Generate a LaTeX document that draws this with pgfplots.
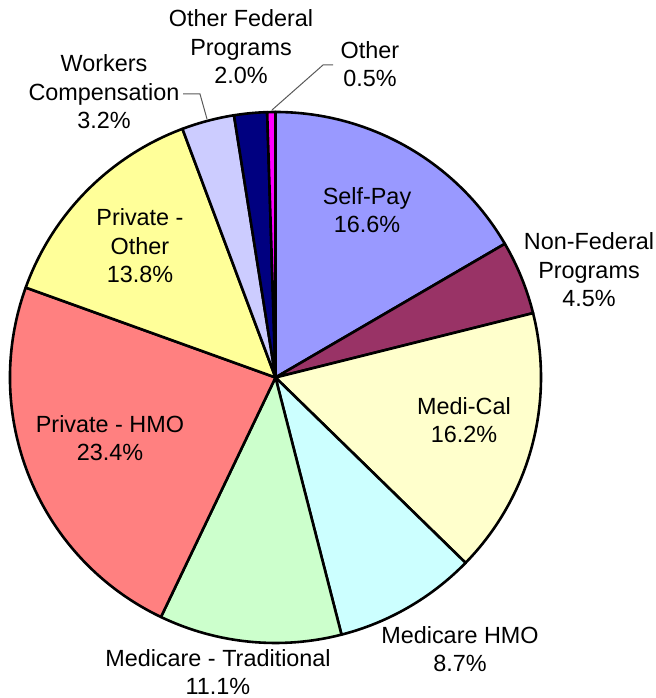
\documentclass[border=0pt]{standalone}
\usepackage{pgfplots}
\pgfplotsset{compat=1.18}
\usepackage{fontspec}
\setmainfont{Liberation Sans}

\definecolor{selfpay}{HTML}{9999FF}
\definecolor{nonfed}{HTML}{993366}
\definecolor{medical}{HTML}{FFFFCC}
\definecolor{mchmo}{HTML}{CCFFFF}
\definecolor{mctrad}{HTML}{CCFFCC}
\definecolor{privhmo}{HTML}{FF8080}
\definecolor{privoth}{HTML}{FFFF99}
\definecolor{workers}{HTML}{CCCCFF}
\definecolor{otherfed}{HTML}{000080}
\definecolor{other}{HTML}{FF00FF}

\tikzset{lbl/.style={font=\fontsize{11.7}{14.2}\selectfont, align=center, inner sep=0pt}}

% pie centre (axis units = pixels) and radius (0.5pt per unit)
\newcommand{\cx}{275.5}
\newcommand{\cy}{320.5}
% #1 = cumulative start (%), #2 = share (%), #3 = colour; clockwise from 12 o'clock
\newcommand{\slice}[3]{%
  \filldraw[fill=#3, draw=black, line width=1.3pt, line join=round]
    (axis cs:\cx,\cy) -- ++({90-3.6*#1}:132.75pt)
    arc[start angle={90-3.6*#1}, end angle={90-3.6*(#1+#2)}, radius=132.75pt] -- cycle;}

\begin{document}
\begin{tikzpicture}
\begin{axis}[
    scale only axis,
    width=328pt, height=349pt,
    xmin=0, xmax=656, ymin=0, ymax=698,
    hide axis, clip=false,
]
\coordinate (bl) at (axis cs:0,0);
\coordinate (tr) at (axis cs:656,698);

\slice{0}{16.6}{selfpay}
\slice{16.6}{4.5}{nonfed}
\slice{21.1}{16.2}{medical}
\slice{37.3}{8.7}{mchmo}
\slice{46.0}{11.1}{mctrad}
\slice{57.1}{23.4}{privhmo}
\slice{80.5}{13.8}{privoth}
\slice{94.3}{3.2}{workers}
\slice{97.5}{2.0}{otherfed}
\slice{99.5}{0.5}{other}

% leader lines
\draw[gray!70!black, line width=0.5pt] (axis cs:183,604) -- (axis cs:200,604) -- (axis cs:207,579);
\draw[gray!70!black, line width=0.5pt] (axis cs:333,633) -- (axis cs:323,633) -- (axis cs:272,588);

\node[lbl] at (axis cs:367,488) {Self-Pay\\16.6\%};
\node[lbl] at (axis cs:589,428) {Non-Federal\\Programs\\4.5\%};
\node[lbl] at (axis cs:464,278) {Medi-Cal\\16.2\%};
\node[lbl] at (axis cs:460,49) {Medicare HMO\\8.7\%};
\node[lbl] at (axis cs:218,26) {Medicare - Traditional\\11.1\%};
\node[lbl] at (axis cs:110,260) {Private - HMO\\23.4\%};
\node[lbl] at (axis cs:140,452) {Private -\\Other\\13.8\%};
\node[lbl] at (axis cs:104,606) {Workers\\Compensation\\3.2\%};
\node[lbl] at (axis cs:241,651) {Other Federal\\Programs\\2.0\%};
\node[lbl] at (axis cs:370,634) {Other\\0.5\%};
\end{axis}
\pgfresetboundingbox
\useasboundingbox (bl) rectangle (tr);
\end{tikzpicture}
\end{document}
